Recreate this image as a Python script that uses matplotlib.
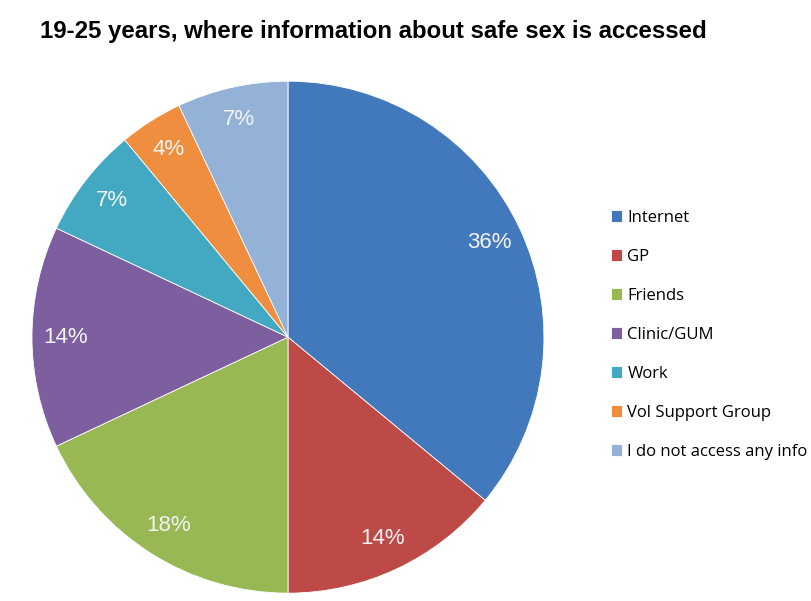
import matplotlib.pyplot as plt

# where 19-25 year olds get information about safe sex (percent)
labels = ["Internet", "GP", "Friends", "Clinic/GUM", "Work",
          "Vol Support Group", "I do not access any info"]
values = [36, 14, 18, 14, 7, 4, 7]
colors = ["#4279BD", "#BE4A47", "#97B853", "#7D5FA0", "#43A9C3",
          "#EE8E3E", "#94B1D8"]

fig = plt.figure(figsize=(8.12, 6.01), dpi=100)
ax = fig.add_axes([0.0394, 0.013, 0.6305, 0.852])

wedges, texts, autotexts = ax.pie(
    values, colors=colors, startangle=90, counterclock=False,
    autopct="%d%%", pctdistance=0.87,
    wedgeprops=dict(edgecolor="#ffffff", linewidth=0.6),
    textprops=dict(color="#F4F4F4", fontsize=16, family="Liberation Sans"))
ax.set_xlim(-1, 1)
ax.set_ylim(-1, 1)
ax.set_aspect("equal")

fig.text(0.049, 0.948, "19-25 years, where information about safe sex is accessed",
         fontsize=17.3, fontweight="bold", family="Liberation Sans", va="center")

fig.legend(wedges, labels, loc="center left", bbox_to_anchor=(0.752, 0.443),
           frameon=False, handlelength=0.7, handleheight=0.7, handletextpad=0.3,
           labelspacing=1.38, borderaxespad=0, borderpad=0,
           prop=dict(family="Open Sans", size=12))

fig.savefig("out.png", dpi=100)
